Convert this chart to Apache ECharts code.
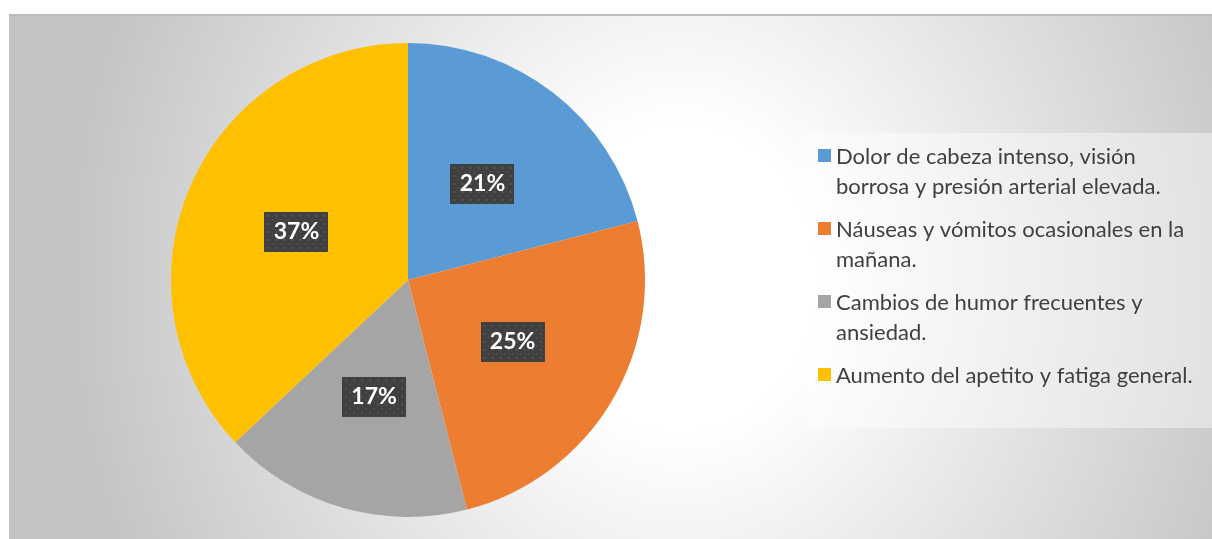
<!DOCTYPE html>
<html>
<head>
<meta charset="utf-8">
<script src="https://cdn.jsdelivr.net/npm/echarts@6/dist/echarts.min.js"></script>
<style>
  html, body { margin: 0; padding: 0; background: #ffffff; }
  #bg {
    position: absolute; left: 9px; top: 14px; width: 1203px; height: 525px;
    border-top: 2px solid #bcbcbc; box-sizing: border-box;
    background: radial-gradient(ellipse 620px 700px at 671px 262px, #ffffff 0%, #ffffff 22%, #c3c3c3 100%);
  }
  #chart { position: absolute; left: 0; top: 0; width: 1212px; height: 539px; }
</style>
</head>
<body>
<div id="bg"></div>
<div id="chart"></div>
<script>
// ---- data ----
const categories = [
  'Dolor de cabeza intenso, visión\nborrosa y presión arterial elevada.',
  'Náuseas y vómitos ocasionales en la\nmañana.',
  'Cambios de humor frecuentes y\nansiedad.',
  'Aumento del apetito y fatiga general.\n '
];
const values = [21, 25, 17, 37];
const colors = ['#5B9BD5', '#ED7D31', '#A5A5A5', '#FFC000'];

// dotted label background
function makePattern(w, h) {
  const c = document.createElement('canvas');
  c.width = w; c.height = h;
  const g = c.getContext('2d');
  g.fillStyle = '#404040';
  g.fillRect(0, 0, w, h);
  g.fillStyle = '#565656';
  for (let y = 3; y < h; y += 8) {
    for (let x = 3; x < w; x += 8) {
      g.fillRect(x, y, 2, 2);
    }
  }
  g.fillStyle = '#4b4b4b';
  for (let y = 7; y < h; y += 8) {
    for (let x = 7; x < w; x += 8) {
      g.fillRect(x, y, 2, 2);
    }
  }
  return c;
}
const pattern = makePattern(64, 40);

const iconPath = 'path://M0,0L0.01,0L0,0.01Z M0,7L13,7L13,20L0,20Z M0,60L0.01,60L0,59.99Z';

const chart = echarts.init(document.getElementById('chart'), null, { renderer: 'canvas' });
chart.setOption({
  backgroundColor: 'transparent',
  animation: false,
  legend: {
    orient: 'vertical',
    left: 805,
    top: 133,
    padding: [9, 0, 7, 13],
    backgroundColor: 'rgba(255,255,255,0.42)',
    itemGap: 13,
    itemWidth: 13,
    itemHeight: 60,
    icon: iconPath,
    itemStyle: { borderWidth: 0 },
    data: categories,
    textStyle: {
      fontFamily: 'Lato',
      fontSize: 22,
      lineHeight: 30,
      color: '#404040',
      width: 376
    }
  },
  series: [{
    type: 'pie',
    center: [408, 280],
    radius: 237,
    startAngle: 90,
    clockwise: true,
    silent: true,
    itemStyle: { borderWidth: 0 },
    data: categories.map((n, i) => ({ name: n, value: values[i], itemStyle: { color: colors[i] } })),
    label: {
      show: true,
      position: 'inside',
      formatter: p => p.value + '%',
      fontFamily: 'Lato',
      fontWeight: 'bold',
      fontSize: 23,
      color: '#ffffff',
      width: 64,
      height: 40,
      lineHeight: 40,
      align: 'center',
      verticalAlign: 'middle',
      backgroundColor: { image: pattern },
      shadowColor: 'rgba(0,0,0,0.55)',
      shadowBlur: 6,
      shadowOffsetX: 3,
      shadowOffsetY: 3
    },
    labelLine: { show: false }
  }]
});
</script>
</body>
</html>
